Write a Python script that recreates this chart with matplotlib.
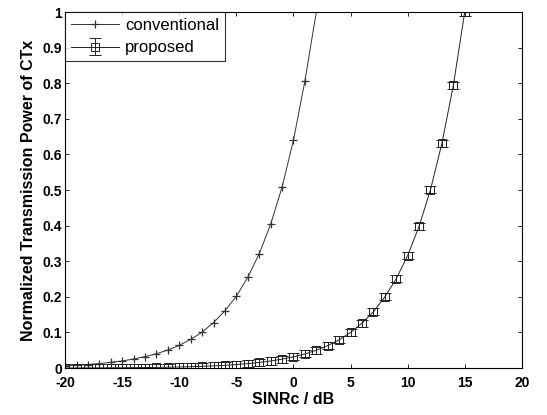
import matplotlib
matplotlib.use('Agg')
import matplotlib.pyplot as plt

plt.rcParams['font.family'] = ['Liberation Sans', 'DejaVu Sans']
plt.rcParams['axes.unicode_minus'] = False

# SINRc (dB) and normalized transmission power
conv_x = [-20, -19, -18, -17, -16, -15, -14, -13, -12, -11, -10, -9, -8, -7,
          -6, -5, -4, -3, -2, -1, 0, 1, 2]
conv_y = [0.0064, 0.0081, 0.0101, 0.0128, 0.0161, 0.0202, 0.0255, 0.0321,
          0.0404, 0.0508, 0.064, 0.0806, 0.101, 0.128, 0.161, 0.202, 0.255,
          0.321, 0.404, 0.508, 0.64, 0.806, 1.0]

prop_x = list(range(-20, 16))
prop_y = [0.0003, 0.0004, 0.0005, 0.0006, 0.0008, 0.001, 0.0013, 0.0016,
          0.002, 0.0025, 0.0032, 0.004, 0.005, 0.0063, 0.0079, 0.01, 0.0126,
          0.0158, 0.02, 0.0251, 0.0316, 0.0398, 0.0501, 0.0631, 0.0794, 0.1,
          0.126, 0.158, 0.2, 0.251, 0.316, 0.398, 0.501, 0.631, 0.794, 1.0]
prop_err = [0.01] * len(prop_x)

xticks = [-20, -15, -10, -5, 0, 5, 10, 15, 20]
yticks = [0, 0.1, 0.2, 0.3, 0.4, 0.5, 0.6, 0.7, 0.8, 0.9, 1]
ytick_labels = ['0', '0.1', '0.2', '0.3', '0.4', '0.5', '0.6', '0.7', '0.8', '0.9', '1']

fig = plt.figure(figsize=(5.47, 4.15), dpi=100)
ax = fig.add_axes([0.119, 0.113, 0.835, 0.858])

ax.plot(conv_x, conv_y, color='#333333', lw=0.7, marker='+', ms=6, mew=0.9,
        markevery=list(range(len(conv_x) - 1)), label='conventional')
ax.errorbar(prop_x, prop_y, yerr=prop_err, color='#222222', lw=0.7,
            marker='s', ms=6, mfc='none', mew=0.7, capsize=4, elinewidth=0.7,
            capthick=0.7, label='proposed')

ax.set_xlim(-20, 20)
ax.set_ylim(0, 1)
ax.set_xticks(xticks)
ax.set_yticks(yticks)
ax.set_yticklabels(ytick_labels)
ax.tick_params(direction='in', top=True, right=True, labelsize=10,
               length=3, width=0.6, pad=2)
ax.tick_params(axis='x', pad=6)
for lab in ax.get_xticklabels() + ax.get_yticklabels():
    lab.set_fontweight('bold')
for sp in ax.spines.values():
    sp.set_linewidth(0.8)

ax.set_xlabel('SINRc / dB', fontsize=11.5, fontweight='bold', labelpad=1)
ax.set_ylabel('Normalized Transmission Power of CTx', fontsize=11.5,
              fontweight='bold', labelpad=5)

leg = ax.legend(loc='upper left', fontsize=12, frameon=True, fancybox=False,
                borderaxespad=0, handlelength=2.9, borderpad=0.35,
                labelspacing=0.45, handletextpad=0.35)
leg.get_frame().set_edgecolor('black')
leg.get_frame().set_linewidth(0.8)

fig.savefig('out.png', dpi=100)
